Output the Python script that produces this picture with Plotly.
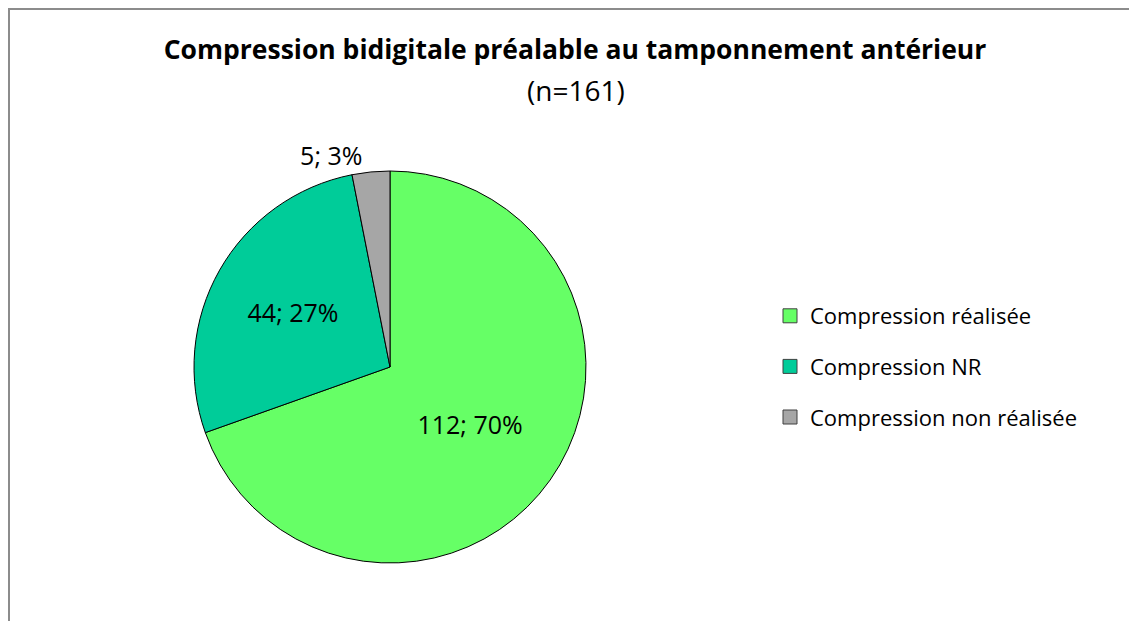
import plotly.graph_objects as go

# data
categories = ["Compression réalisée", "Compression NR", "Compression non réalisée"]
counts = [112, 44, 5]
colors = ["#66FF66", "#00CC99", "#A6A6A6"]
label_pos = ["inside", "inside", "outside"]

title_text = "Compression bidigitale préalable au tamponnement antérieur"
subtitle_text = "(n=161)"

# the page body has an 8px margin, so the figure starts at (8, 8) on screen
OFF = 8
W, H = 1137 - OFF, 621 - OFF
FONT = "Open Sans"

# pie geometry in screen pixels (centre and radius as in the picture)
cx, cy, r = 390 - OFF, 367 - OFF, 196


def px(x):
    return x / W


def py(y):
    return 1 - y / H


fig = go.Figure()

fig.add_trace(go.Pie(
    labels=categories,
    values=counts,
    sort=False,
    direction="clockwise",
    rotation=0,
    marker=dict(colors=colors, line=dict(color="black", width=1)),
    texttemplate="%{value}; %{percent:.0%}",
    textposition=label_pos,
    insidetextorientation="horizontal",
    textfont=dict(family=FONT, size=25, color="black"),
    showlegend=False,
    hoverinfo="label+value+percent",
    domain=dict(x=[px(cx - r), px(cx + r)],
                y=[py(cy + r), py(cy - r)]),
))

# legend entries, one group each so the gap between rows can be set
for i, (name, col) in enumerate(zip(categories, colors)):
    fig.add_trace(go.Scatter(
        x=[None], y=[None],
        mode="markers",
        name=name,
        legendgroup=f"g{i}",
        marker=dict(symbol="square", size=14, color=col,
                    line=dict(color="#404040", width=1)),
    ))

# chart frame (only top and left edges are visible in the crop)
fig.add_shape(type="rect", xref="paper", yref="paper",
              x0=px(1), x1=1.2, y0=-0.2, y1=py(1),
              line=dict(color="#8C8C8C", width=2), layer="below")

fig.add_annotation(
    text=subtitle_text, xref="paper", yref="paper",
    x=px(576 - OFF), y=py(90 - OFF), xanchor="center", yanchor="middle",
    showarrow=False, font=dict(family=FONT, size=28, color="black"),
)

fig.update_layout(
    width=W, height=H,
    margin=dict(l=0, r=0, t=0, b=0),
    paper_bgcolor="white",
    plot_bgcolor="white",
    title=dict(text="<b>" + title_text + "</b>", x=px(575 - OFF), xanchor="center",
               y=py(50 - OFF), yanchor="middle",
               font=dict(family=FONT, size=26.5, color="black")),
    xaxis=dict(visible=False),
    yaxis=dict(visible=False),
    legend=dict(x=px(770 - OFF), y=py(295 - OFF), xanchor="left", yanchor="top",
                traceorder="grouped", tracegroupgap=19,
                itemclick=False,
                font=dict(family=FONT, size=22, color="black"),
                bgcolor="rgba(0,0,0,0)"),
    showlegend=True,
)

fig.write_html("out.html")
